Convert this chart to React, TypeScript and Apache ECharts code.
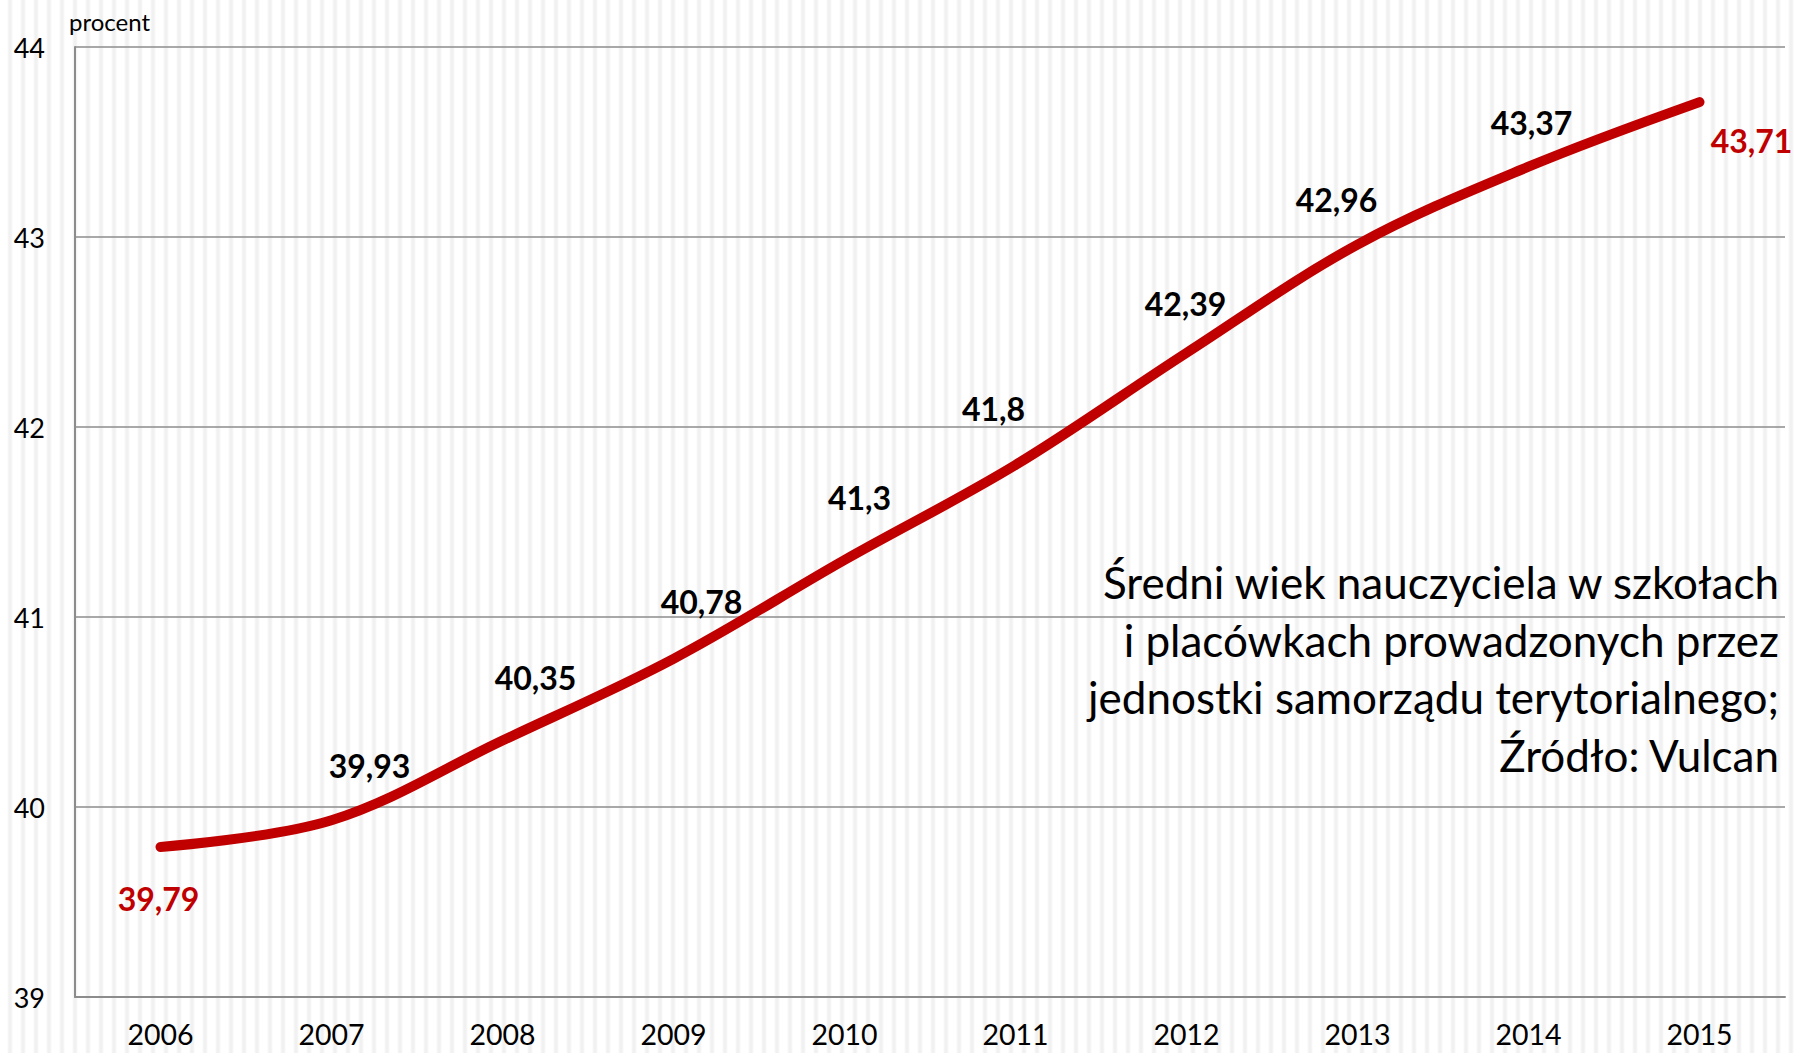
import React, { useEffect, useRef } from "react";
import * as echarts from "echarts";

const years = ["2006", "2007", "2008", "2009", "2010", "2011", "2012", "2013", "2014", "2015"];
const avgAge = [39.79, 39.93, 40.35, 40.78, 41.3, 41.8, 42.39, 42.96, 43.37, 43.71];
const labelOffsets: [number, number][] = [
  [-2, 52], [38, -55], [33, -63], [28, -57], [15, -63],
  [-22, -57], [-1, -49], [-21, -45], [3, -44], [52, 38],
];
const labelColors = ["#C00000", "#000", "#000", "#000", "#000", "#000", "#000", "#000", "#000", "#C00000"];
const noteLines = [
  "Średni wiek nauczyciela w szkołach",
  "i placówkach prowadzonych przez",
  "jednostki samorządu terytorialnego;",
  "Źródło: Vulcan",
];

const FONT = "Lato, 'Noto Sans', sans-serif";

export default function App() {
  const ref = useRef<HTMLDivElement>(null);
  useEffect(() => {
    if (!ref.current) return;
    const chart = echarts.init(ref.current, null, { renderer: "svg" });
    const fmt = (v: number) => String(v).replace(".", ",");
    chart.setOption({
      animation: false,
      backgroundColor: "transparent",
      textStyle: { fontFamily: FONT },
      grid: { left: 75, right: 15, top: 47, bottom: 56, containLabel: false },
      xAxis: {
        type: "category",
        data: years,
        boundaryGap: true,
        axisLine: { lineStyle: { color: "#8c8c8c", width: 2 } },
        axisTick: { show: false },
        axisLabel: { color: "#000", fontSize: 28.5, fontFamily: FONT, margin: 22 },
      },
      yAxis: {
        type: "value",
        min: 39,
        max: 44,
        interval: 1,
        name: "procent",
        nameLocation: "end",
        nameGap: 14,
        nameTextStyle: { color: "#000", fontSize: 24, fontFamily: FONT, align: "left", padding: [0, 0, 0, -6] },
        axisLine: { show: true, lineStyle: { color: "#8c8c8c", width: 2 } },
        axisTick: { show: false },
        splitLine: { lineStyle: { color: "#8c8c8c", width: 1.5 } },
        axisLabel: { color: "#000", fontSize: 27, fontFamily: FONT, margin: 30 },
      },
      series: [
        {
          type: "line",
          smooth: 0.35,
          symbol: "circle",
          symbolSize: 2,
          showSymbol: true,
          itemStyle: { color: "#C00000" },
          lineStyle: { color: "#C00000", width: 10, cap: "round" },
          data: avgAge.map((v, i) => ({
            value: v,
            label: {
              show: true,
              position: "inside",
              offset: labelOffsets[i],
              formatter: () => fmt(v),
              color: labelColors[i],
              fontSize: 32,
              fontWeight: "bold",
              fontFamily: FONT,
            },
          })),
        },
      ],
      graphic: noteLines.map((t, i) => ({
        type: "text",
        right: 21,
        top: 560 + i * 57.5,
        style: { text: t, fill: "#000", fontSize: 44, fontFamily: FONT, textAlign: "right" },
      })),
    });
    return () => chart.dispose();
  }, []);
  return (
    <div
      ref={ref}
      style={{
        position: "fixed",
        left: 0,
        top: 0,
        width: 1800,
        height: 1053,
        background:
          "repeating-linear-gradient(90deg, #ffffff 0px, #ffffff 7px, #f1f1f1 9px, #f1f1f1 11px, #ffffff 13px)",
      }}
    />
  );
}
